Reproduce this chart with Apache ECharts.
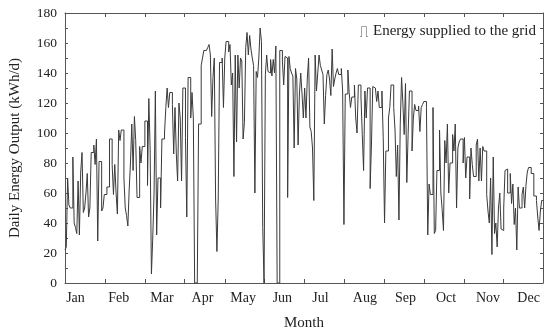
<!DOCTYPE html>
<html><head><meta charset="utf-8">
<script src="https://cdn.jsdelivr.net/npm/echarts@6/dist/echarts.min.js"></script>
<style>html,body{margin:0;padding:0;background:#fff}#c{width:550px;height:336px}</style>
</head><body><div id="c"></div>
<script>
// Month tick labels
const months = ['Jan','Feb','Mar','Apr','May','Jun','Jul','Aug','Sep','Oct','Nov','Dec'];
// Daily energy supplied to the grid (kWh/d), one array per month
const jan = [22,24,70,52,50,50,84,40,37,33,68,32,74,87,47,50,60,73,44,50,87,87,92,79,96,28,81,81,48,50,59];
const feb = [59,64,64,96,96,79,59,79,60,46,102,95,102,102,70,50,45,38,62,80,106,75,111,95,57,57,91,80];
const mar = [91,91,108,108,65,123,90,6,30,60,128,32,70,70,50,96,96,100,117,130,117,127,127,119,86,117,86,68,120,110,68];
const apr = [130,130,97,44,137,137,110,127,110,0,0,0,106,106,145,150,155,155,155,157,159,152,111,137,150,56,21,56,147,147];
const may = [150,117,150,161,161,154,159,132,140,71,152,94,152,130,150,148,96,107,157,167,152,165,156,150,145,60,141,137,150,170,161];
const jun = [37,0,139,152,141,140,149,138,149,140,158,0,0,155,155,148,132,151,150,57,151,143,140,138,90,143,136,92,126,140];
const jul = [126,110,130,110,136,150,104,101,90,55,152,128,140,152,145,142,139,106,125,139,142,136,125,156,131,136,140,143,139,139,143];
const aug = [128,39,126,126,142,127,117,124,124,132,110,100,132,132,124,99,75,128,110,130,130,63,92,131,130,130,121,128,117,117,128];
const sep = [97,40,88,88,110,117,132,132,117,102,71,92,42,106,137,120,99,133,67,99,128,128,88,110,119,115,115,118,101,117];
const oct = [119,121,121,117,32,66,59,59,117,33,35,75,75,102,60,49,35,95,80,106,60,80,80,99,88,106,50,90,94,96,96];
const nov = [80,97,70,84,84,56,90,79,71,71,92,96,68,90,68,91,88,88,59,48,40,70,19,84,33,40,24,50,60,36];
const dec = [35,50,75,76,60,60,73,53,66,39,50,22,64,50,50,59,64,50,65,74,77,77,73,73,58,58,55,44,35,48,55];

const values = [].concat(jan,feb,mar,apr,may,jun,jul,aug,sep,oct,nov,dec);
const seriesData = values.map((v,i)=>[i,v]);
seriesData.push([values.length, values[values.length-1]]);

// axis layout (tick positions along the day axis)
const tickDays = [31,61,91,122,152,183,213,244,274,305,335];
const labelDays = [8,41,74,105,136,166,195,229,260,291,323,354];

const FONT = 'Liberation Serif';
const AX = '#555';
const chart = echarts.init(document.getElementById('c'), null, {renderer:'canvas'});
const xCommon = {
  type:'value', min:0, max:365,
  axisLine:{show:true, onZero:false, lineStyle:{color:AX, width:1}},
  splitLine:{show:false},
  axisTick:{show:true, inside:true, length:4, lineStyle:{color:AX}, customValues:tickDays},
};
const yCommon = {
  type:'value', min:0, max:180, interval:20,
  axisLine:{show:true, onZero:false, lineStyle:{color:AX, width:1}},
  splitLine:{show:false},
  axisTick:{show:true, inside:true, length:3, lineStyle:{color:AX}},
  minorTick:{show:true, splitNumber:2, length:3, lineStyle:{color:AX}},
};
chart.setOption({
  animation:false,
  backgroundColor:'#fff',
  grid:{left:64, right:7, top:13, bottom:52},
  legend:{
    right:9, top:19, itemWidth:8, itemHeight:11, itemGap:6,
    textStyle:{fontFamily:FONT, fontSize:15, color:'#222'},
    data:[{name:'Energy supplied to the grid',
      icon:'path://M0,20 L4,20 L4,0 L12,0 L12,20 L16,20 L16,19 L13,19 L13,-1 L3,-1 L3,19 L0,19 Z',
      itemStyle:{color:'#444'}}]
  },
  xAxis:[
    Object.assign({}, xCommon, {position:'bottom',
      name:'Month', nameLocation:'middle', nameGap:33,
      nameTextStyle:{fontFamily:FONT, fontSize:15, color:'#222'},
      axisLabel:{show:true, margin:8, fontFamily:FONT, fontSize:14, color:'#222',
        customValues:labelDays,
        formatter:(v)=>{const k=labelDays.indexOf(v); return k>=0?months[k]:'';}}}),
    Object.assign({}, xCommon, {position:'top', axisLabel:{show:false}})
  ],
  yAxis:[
    Object.assign({}, yCommon, {position:'left',
      name:'Daily Energy Output (kWh/d)', nameLocation:'middle', nameGap:42,
      nameTextStyle:{fontFamily:FONT, fontSize:15, color:'#222'},
      axisLabel:{show:true, margin:8, fontFamily:FONT, fontSize:13.5, color:'#222'}}),
    Object.assign({}, yCommon, {position:'right', axisLabel:{show:false}})
  ],
  series:[{
    name:'Energy supplied to the grid', type:'line', step:'end',
    xAxisIndex:0, yAxisIndex:0,
    data:seriesData, showSymbol:false, symbol:'none',
    lineStyle:{color:'#3a3a3a', width:1},
    itemStyle:{color:'#444'}
  }]
});
</script></body></html>
